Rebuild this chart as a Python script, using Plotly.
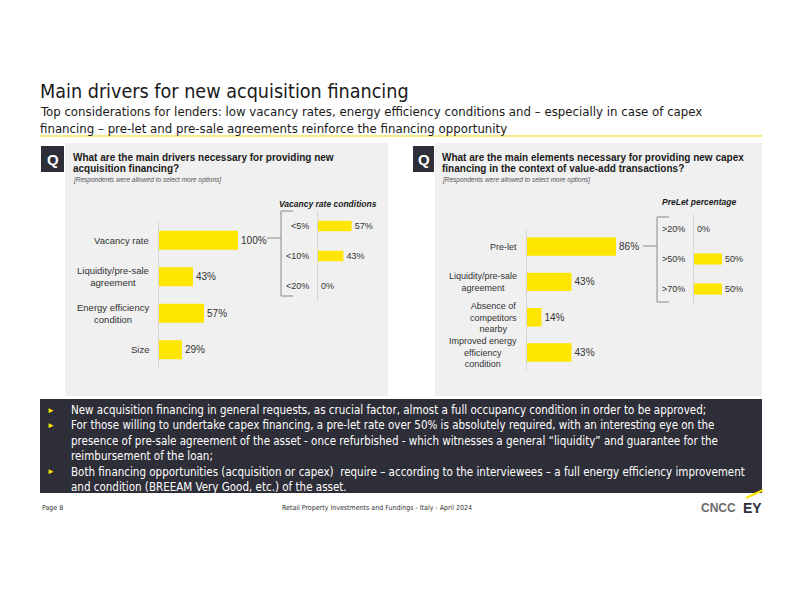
import plotly.graph_objects as go

# ---------------- data ----------------
left_cats = ["Vacancy rate", "Liquidity/pre-sale<br>agreement", "Energy efficiency<br>condition", "Size"]
left_vals = [100, 43, 57, 29]

vacancy_cats = ["&lt;5%", "&lt;10%", "&lt;20%"]
vacancy_vals = [57, 43, 0]

right_cats = ["Pre-let", "Liquidity/pre-sale<br>agreement", "Absence of<br>competitors<br>nearby",
              "Improved energy<br>efficiency<br>condition"]
right_vals = [86, 43, 14, 43]

prelet_cats = ["&gt;20%", "&gt;50%", "&gt;70%"]
prelet_vals = [0, 50, 50]

title = "Main drivers for new acquisition financing"
subtitle_lines = [
    "Top considerations for lenders: low vacancy rates, energy efficiency conditions and – especially in case of capex",
    "financing – pre-let and pre-sale agreements reinforce the financing opportunity",
]
q_left = ["What are the main drivers necessary for providing new", "acquisition financing?"]
q_right = ["What are the main elements necessary for providing new capex",
           "financing in the context of value-add transactions?"]
note = "[Respondents were allowed to select more options]"
bullets = [
    ("New acquisition financing in general requests, as crucial factor, almost a full occupancy condition in order to be approved;", True),
    ("For those willing to undertake capex financing, a pre-let rate over 50% is absolutely required, with an interesting eye on the", True),
    ("presence of pre-sale agreement of the asset - once refurbished - which witnesses a general “liquidity” and guarantee for the", False),
    ("reimbursement of the loan;", False),
    ("Both financing opportunities (acquisition or capex)  require – according to the interviewees – a full energy efficiency improvement", True),
    ("and condition (BREEAM Very Good, etc.) of the asset.", False),
]

# ---------------- style ----------------
OFF = 8  # page body margin
W, H = 800 - OFF, 600 - OFF
YEL = "#FFE600"
DARK = "#2E2E38"
PANEL = "#F0F0F0"
TXT = "#333333"
NARROW = "Liberation Sans Narrow, DejaVu Sans Condensed, Arial Narrow, sans-serif"
CHART = "Liberation Sans, Arial, sans-serif"


def X(px):
    return (px - OFF) / W


def Y(py):
    return 1 - (py - OFF) / H


fig = go.Figure()


def add_bar(cats, vals, xa, ya, width, fsize):
    fig.add_trace(go.Bar(
        x=vals, y=cats, orientation="h", xaxis=xa, yaxis=ya,
        marker=dict(color=YEL, line=dict(width=0)), width=width,
        texttemplate="%{x}%", textposition="outside", cliponaxis=False,
        textfont=dict(size=fsize, color=TXT, family=CHART),
        showlegend=False, hoverinfo="skip",
    ))


add_bar(left_cats, left_vals, "x", "y", 0.52, 10)
add_bar(vacancy_cats, vacancy_vals, "x2", "y2", 0.35, 9)
add_bar(right_cats, right_vals, "x3", "y3", 0.52, 10)
add_bar(prelet_cats, prelet_vals, "x4", "y4", 0.37, 9)


def xax(d0, d1, anchor):
    return dict(domain=[X(d0), X(d1)], range=[0, 100], visible=False, anchor=anchor, fixedrange=True)


def yax(top, bottom, anchor, labels, standoff):
    return dict(domain=[Y(bottom), Y(top)], anchor=anchor, autorange="reversed",
                showline=True, linecolor="#D6D6D6", linewidth=1, showgrid=False,
                zeroline=False, ticks="", showticklabels=labels, ticklabelstandoff=standoff,
                tickfont=dict(size=9, color=TXT, family=CHART), fixedrange=True)


layout = dict(
    width=W, height=H, margin=dict(l=0, r=0, t=0, b=0),
    paper_bgcolor="white", plot_bgcolor="rgba(0,0,0,0)",
    xaxis=xax(159, 238, "y"), yaxis=yax(222, 368, "x", False, 0),
    xaxis2=xax(318, 377, "y2"), yaxis2=yax(211, 301, "x2", True, 6),
    xaxis3=xax(527, 630.5, "y3"), yaxis3=yax(229, 371, "x3", False, 0),
    xaxis4=xax(694, 750, "y4"), yaxis4=yax(214, 304, "x4", True, 6),
)
fig.update_layout(**layout)

shapes = []


def rect(x0, y0, x1, y1, color):
    shapes.append(dict(type="rect", xref="paper", yref="paper", x0=X(x0), x1=X(x1), y0=Y(y1), y1=Y(y0),
                       fillcolor=color, line=dict(width=0), layer="below"))


def line(x0, y0, x1, y1, color, w=1.2):
    shapes.append(dict(type="line", xref="paper", yref="paper", x0=X(x0), x1=X(x1), y0=Y(y0), y1=Y(y1),
                       line=dict(color=color, width=w)))


rect(65, 143, 388, 396, PANEL)
rect(435, 143, 762, 396, PANEL)
rect(41, 146, 64, 172, DARK)
rect(413, 146, 434, 172, DARK)
rect(40, 399, 762, 493, DARK)
line(40, 136, 762, 136, "#F2E45A", 1.5)
# brackets
for (cx0, cx1, top, bot, cy) in [(267, 281, 211, 296, 238), (643, 657, 217, 302, 246)]:
    line(cx1, top, cx1, bot, "#9A9A9A")
    line(cx1, top, cx1 + 12, top, "#9A9A9A")
    line(cx1, bot, cx1 + 12, bot, "#9A9A9A")
    line(cx0, cy, cx1, cy, "#9A9A9A")
# EY beam
line(746, 498, 763, 490, YEL, 2)
fig.update_layout(shapes=shapes)

ann = []


def text(x, y, s, size, color="#1A1A1A", family=NARROW, xanchor="left", align="left", **kw):
    ann.append(dict(x=X(x), y=Y(y), xref="paper", yref="paper", text=s, showarrow=False,
                    xanchor=xanchor, yanchor="middle", align=align,
                    font=dict(size=size, color=color, family=family), **kw))


text(38, 91, title, 19.6)
for i, s in enumerate(subtitle_lines):
    text(38, 112 + 16 * i, s, 13.1)

text(52.5, 159, "<b>Q</b>", 15, "white", CHART, xanchor="center")
text(423.5, 159, "<b>Q</b>", 15, "white", CHART, xanchor="center")
for i, s in enumerate(q_left):
    text(71, 157 + 12 * i, "<b>" + s + "</b>", 10, "#1A1A1A", CHART)
for i, s in enumerate(q_right):
    text(440, 157 + 12 * i, "<b>" + s + "</b>", 10, "#1A1A1A", CHART)
text(71, 180, "<i>" + note + "</i>", 6.5, "#555555", CHART)
text(440, 180, "<i>" + note + "</i>", 6.5, "#555555", CHART)
text(379, 204, "<b><i>Vacancy rate conditions</i></b>", 8.5, "#1A1A1A", CHART, xanchor="right")
text(738, 202, "<b><i>PreLet percentage</i></b>", 8.5, "#1A1A1A", CHART, xanchor="right")

# category labels of main charts (centered multi-line, right edge aligned)
for c in left_cats:
    ann.append(dict(x=X(151), y=c, xref="paper", yref="y", text=c, showarrow=False,
                    xanchor="right", yanchor="middle", align="center",
                    font=dict(size=9.5, color=TXT, family=CHART)))
for c in right_cats:
    ann.append(dict(x=X(519), y=c, xref="paper", yref="y3", text=c, showarrow=False,
                    xanchor="right", yanchor="middle", align="center",
                    font=dict(size=9, color=TXT, family=CHART)))

# bottom box
for i, (s, b) in enumerate(bullets):
    yy = 410 + 15.4 * i
    if b:
        text(51, yy, "►", 8, YEL, CHART, xanchor="center")
    text(69, yy, s, 11.5, "white")

# footer
text(40, 508, "Page 8", 7, "#333333")
text(377, 508, "Retail Property Investments and Fundings - Italy - April 2024", 7, "#333333", xanchor="center")
text(718, 508, "<b>CNCC</b>", 12, "#6B6B6B", CHART, xanchor="center")
text(752, 508, "<b>EY</b>", 14, DARK, CHART, xanchor="center")

fig.update_layout(annotations=ann)
fig.write_html("out.html")
